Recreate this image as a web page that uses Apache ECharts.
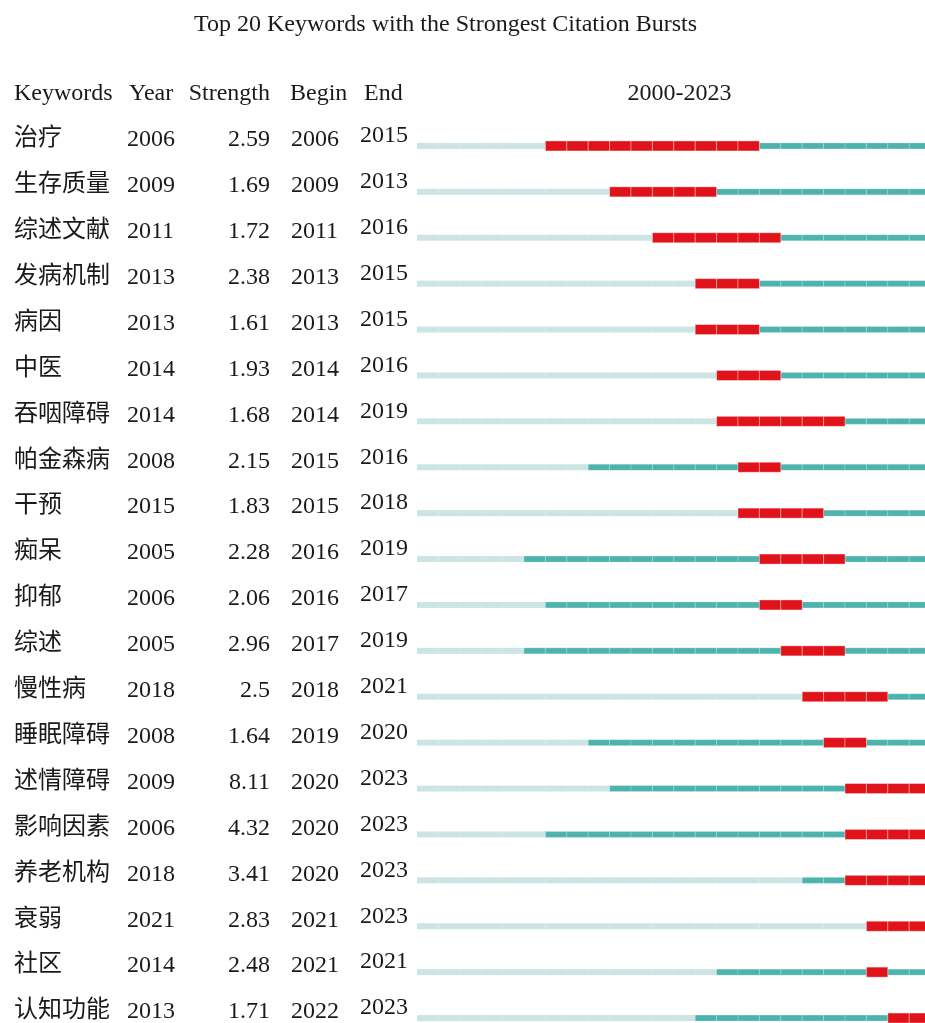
<!DOCTYPE html>
<html>
<head>
<meta charset="utf-8">
<script src="https://cdn.jsdelivr.net/npm/echarts@6/dist/echarts.min.js"></script>
<style>html,body{margin:0;padding:0;background:#fff}#c{width:925px;height:1023px}</style>
</head>
<body>
<div id="c"></div>
<script>
const keywords = ['治疗','生存质量','综述文献','发病机制','病因','中医','吞咽障碍','帕金森病','干预','痴呆','抑郁','综述','慢性病','睡眠障碍','述情障碍','影响因素','养老机构','衰弱','社区','认知功能'];
const years = [2006,2009,2011,2013,2013,2014,2014,2008,2015,2005,2006,2005,2018,2008,2009,2006,2018,2021,2014,2013];
const strengths = ['2.59','1.69','1.72','2.38','1.61','1.93','1.68','2.15','1.83','2.28','2.06','2.96','2.5','1.64','8.11','4.32','3.41','2.83','2.48','1.71'];
const begins = [2006,2009,2011,2013,2013,2014,2014,2015,2015,2016,2016,2017,2018,2019,2020,2020,2020,2021,2021,2022];
const ends = [2015,2013,2016,2015,2015,2016,2019,2016,2018,2019,2017,2019,2021,2020,2023,2023,2023,2023,2021,2023];
const headers = ['Keywords','Year','Strength','Begin','End'];
const rangeStart = 2000, rangeEnd = 2023;
const title = 'Top 20 Keywords with the Strongest Citation Bursts';

const FONT = "'Liberation Serif','Times New Roman','Noto Sans CJK SC',serif";
const TXT = '#1a1a1a';
const LIGHT = '#cde4e4', TEAL = '#4db3af', RED = '#e0121a';

// layout: px per year and px per row, grid clipped by the canvas edges
const GRID_LEFT = 417, GRID_TOP = 123, W = 925, H = 1023;
const PX_YEAR = 21.4, PX_ROW = 45.9;

const chart = echarts.init(document.getElementById('c'), null, {renderer:'canvas'});

function seg(api, i, y0, y1, h, color, stroke) {
  const out = [];
  for (let y = y0; y < y1; y++) {
    const a = api.coord([y, i]);
    const b = api.coord([y + 1, i]);
    out.push({
      type: 'rect',
      shape: {x: a[0], y: a[1] - h / 2, width: b[0] - a[0], height: h},
      style: {fill: color, stroke: stroke, lineWidth: stroke ? 0.8 : 0}
    });
  }
  return out;
}

function txt(x, y, s, align) {
  return {type:'text', x:x, y:y, style:{text:s, fill:TXT, font:'24px '+FONT, align:align||'left', verticalAlign:'middle'}};
}
function htxt(x, y, s, align, size) {
  return {type:'text', x:x, y:y, style:{text:s, fill:TXT, font:(size||24)+'px '+FONT, align:align||'left', verticalAlign:'middle'}};
}

chart.setOption({
  animation: false,
  backgroundColor: '#fff',
  grid: {left: GRID_LEFT, top: GRID_TOP, right: 0, bottom: 0},
  xAxis: {type:'value', min: rangeStart, max: rangeStart + (W - GRID_LEFT) / PX_YEAR, show: false},
  yAxis: {type:'value', inverse: true, min: -0.5, max: -0.5 + (H - GRID_TOP) / PX_ROW, show: false},
  graphic: [
    htxt(445.5, 25, title, 'center', 24),
    htxt(14, 94, headers[0]),
    htxt(129, 94, headers[1]),
    htxt(270, 94, headers[2], 'right'),
    htxt(290, 94, headers[3]),
    htxt(364, 94, headers[4]),
    htxt(679.5, 94, rangeStart + '-' + rangeEnd, 'center')
  ],
  series: [{
    type: 'custom',
    clip: false,
    coordinateSystem: 'cartesian2d',
    data: keywords.map((k, i) => [rangeStart, i]),
    encode: {x: 0, y: 1},
    renderItem: function (params, api) {
      const i = params.dataIndex;
      const yc = api.coord([rangeStart, i])[1];
      const children = [];
      children.push(...seg(api, i, rangeStart, years[i], 6, LIGHT, null));
      children.push(...seg(api, i, years[i], begins[i], 6, TEAL, 'rgba(255,255,255,0.25)'));
      children.push(...seg(api, i, ends[i] + 1, rangeEnd + 1, 6, TEAL, 'rgba(255,255,255,0.25)'));
      children.push(...seg(api, i, begins[i], ends[i] + 1, 10, RED, 'rgba(255,255,255,0.45)'));
      children.push(txt(14, yc - 7, keywords[i]));
      children.push(txt(127, yc - 6, String(years[i])));
      children.push(txt(270, yc - 6, strengths[i], 'right'));
      children.push(txt(291, yc - 6, String(begins[i])));
      children.push(txt(360, yc - 10, String(ends[i])));
      return {type:'group', children: children};
    }
  }]
});
</script>
</body>
</html>
